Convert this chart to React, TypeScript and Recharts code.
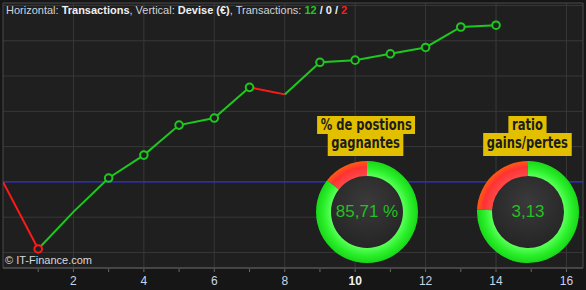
import { ComposedChart, Line, XAxis, YAxis, CartesianGrid, ReferenceLine, ReferenceArea, PieChart, Pie, Cell } from 'recharts';

// cumulative balance after each transaction (index 0 = start)
const balance = [0, -190, -85, 11, 76, 161, 181, 268, 248, 339, 345, 363, 381, 439, 444];
// transactions that show a round marker
const markerIdx = [1, 3, 4, 5, 6, 7, 9, 10, 11, 12, 13, 14];
const xTicks = [1, 2, 3, 4, 5, 6, 7, 8, 9, 10, 11, 12, 13, 14, 15, 16];
const xGrid = [2, 4, 6, 8, 10, 12, 14, 16];
const yGrid = [-200, -100, 0, 100, 200, 300, 400, 500];

const winPct = [14.29, 85.71];
const gainLoss = [24.21, 75.79];

const GREEN = '#1ec81e';
const RED = '#ff1a1a';

// split the curve into runs of wins / losses so each run gets its own colour
const runs: { win: boolean; pts: number[] }[] = [];
for (let i = 1; i < balance.length; i++) {
  const win = balance[i] >= balance[i - 1];
  const last = runs[runs.length - 1];
  if (last && last.win === win) last.pts.push(i);
  else runs.push({ win, pts: [i - 1, i] });
}

const rows = balance.map((v, i) => {
  const r: any = { x: i, marker: markerIdx.includes(i) ? v : null, win: i === 0 || v >= balance[i - 1] };
  runs.forEach((run, k) => {
    r['run' + k] = run.pts.includes(i) ? v : null;
  });
  return r;
});

const XTick = (props: any) => {
  const { x, y, payload } = props;
  const v = payload.value;
  return (
    <g>
      <line x1={x} x2={x} y1={y + 1} y2={y + 4} stroke="#666" />
      {v % 2 === 0 && (
        <text
          x={x}
          y={y + 17}
          textAnchor="middle"
          fontSize={12}
          fontWeight={v === 10 ? 'bold' : 'normal'}
          fill={v === 10 ? '#f0f0f0' : '#c8d4ea'}
          fontFamily='"Liberation Sans", Arial, sans-serif'
        >
          {v}
        </text>
      )}
    </g>
  );
};

const Marker = (props: any) => {
  const { cx, cy, payload, index } = props;
  if (cy == null || payload.marker == null) return <g key={index} />;
  return <circle key={index} cx={cx} cy={cy} r={3.8} fill="#1f1f1f" stroke={payload.win ? GREEN : RED} strokeWidth={2} />;
};

const Donut = ({ data, label, left, id, title }: { data: number[]; label: string; left: number; id: string; title: string[] }) => (
  <>
    <div
      style={{
        position: 'absolute',
        left: left - 116,
        top: 115,
        width: 230,
        textAlign: 'center',
        fontFamily: '"DejaVu Sans", sans-serif',
        fontWeight: 'bold',
        fontSize: 16,
        color: '#1c1c1c',
      }}
    >
      {title.map((t, i) => (
        <div key={i} style={{ height: i === 0 ? 18 : 23 }}>
          <span
            style={{
              display: 'inline-block',
              background: '#e2c000',
              padding: '0 5px',
              height: i === 0 ? 18 : 23,
              lineHeight: i === 0 ? '18px' : '19px',
              transform: 'scaleX(0.72)',
              transformOrigin: 'center',
            }}
          >
            {t}
          </span>
        </div>
      ))}
    </div>
    <div style={{ position: 'absolute', left: left - 55, top: 157 }}>
      <PieChart width={110} height={110} margin={{ top: 0, right: 0, bottom: 0, left: 0 }}>
        <defs>
          <radialGradient id={id + 'g'} gradientUnits="userSpaceOnUse" cx={55} cy={55} r={51}>
            <stop offset="70%" stopColor="#5cff5c" />
            <stop offset="85%" stopColor="#2cf02c" />
            <stop offset="100%" stopColor="#18d818" />
          </radialGradient>
          <radialGradient id={id + 'r'} gradientUnits="userSpaceOnUse" cx={55} cy={55} r={51}>
            <stop offset="70%" stopColor="#ff4a4a" />
            <stop offset="88%" stopColor="#ff3232" />
            <stop offset="100%" stopColor="#ff5a10" />
          </radialGradient>
          <radialGradient id={id + 'c'} gradientUnits="userSpaceOnUse" cx={55} cy={45} r={48}>
            <stop offset="0%" stopColor="#3a3a3a" />
            <stop offset="100%" stopColor="#242424" />
          </radialGradient>
        </defs>
        <Pie
          data={[{ v: 1 }]}
          dataKey="v"
          cx={55}
          cy={55}
          outerRadius={36}
          innerRadius={0}
          stroke="none"
          fill={`url(#${id}c)`}
          isAnimationActive={false}
        />
        <Pie
          data={data.map((v, i) => ({ v, i }))}
          dataKey="v"
          cx={55}
          cy={55}
          innerRadius={36}
          outerRadius={51}
          startAngle={90}
          endAngle={450}
          stroke="none"
          isAnimationActive={false}
        >
          <Cell fill={`url(#${id}r)`} />
          <Cell fill={`url(#${id}g)`} />
        </Pie>
      </PieChart>
      <div
        style={{
          position: 'absolute',
          left: 0,
          top: 0,
          width: 110,
          height: 110,
          lineHeight: '110px',
          textAlign: 'center',
          color: '#22c022',
          fontSize: 17,
          fontFamily: '"Liberation Sans", Arial, sans-serif',
        }}
      >
        {label}
      </div>
    </div>
  </>
);

export default function App() {
  return (
    <div
      style={{
        position: 'absolute',
        left: 0,
        top: 0,
        width: 586,
        height: 290,
        background: '#161616',
        fontFamily: '"Liberation Sans", Arial, sans-serif',
        overflow: 'hidden',
      }}
    >
      <ComposedChart width={586} height={290} data={rows} margin={{ top: 3, right: 3, left: 3, bottom: 0 }}>
        <CartesianGrid fill="#1f1f1f" stroke="#383838" verticalValues={xGrid} horizontalValues={yGrid} />
        <XAxis
          type="number"
          dataKey="x"
          domain={[0, 16.47]}
          ticks={xTicks}
          interval={0}
          allowDataOverflow
          height={22}
          axisLine={{ stroke: '#5a5a5a' }}
          tickLine={false}
          tickSize={0}
          tickMargin={0}
          tick={<XTick />}
        />
        <YAxis type="number" domain={[-244, 507]} hide allowDataOverflow />
        <ReferenceArea x1={0} x2={16.47} y1={-244} y2={507} fill="none" stroke="#4a4a4a" />
        <ReferenceLine y={0} stroke="#2c2cff" strokeWidth={1} />
        {runs.map((run, k) => (
          <Line
            key={k}
            type="linear"
            dataKey={'run' + k}
            stroke={run.win ? GREEN : RED}
            strokeWidth={2}
            dot={false}
            activeDot={false}
            connectNulls={false}
            isAnimationActive={false}
          />
        ))}
        <Line
          type="linear"
          dataKey="marker"
          stroke="none"
          dot={<Marker />}
          activeDot={false}
          isAnimationActive={false}
        />
      </ComposedChart>
      <div style={{ position: 'absolute', left: 6, top: 4, fontSize: 11, color: '#cfd3da', whiteSpace: 'nowrap' }}>
        Horizontal: <b style={{ color: '#eef0f4' }}>Transactions</b>, Vertical: <b style={{ color: '#eef0f4' }}>Devise (€)</b>,
        Transactions: <b style={{ color: GREEN }}>12</b> <b style={{ color: '#eef0f4' }}>/ 0 /</b>{' '}
        <b style={{ color: RED }}>2</b>
      </div>
      <div style={{ position: 'absolute', left: 5, top: 254, fontSize: 11, color: '#d8d8d8' }}>© IT-Finance.com</div>
      <Donut data={winPct} label="85,71 %" left={367} id="d1" title={['% de postions', 'gagnantes']} />
      <Donut data={gainLoss} label="3,13" left={528} id="d2" title={['ratio', 'gains/pertes']} />
    </div>
  );
}
